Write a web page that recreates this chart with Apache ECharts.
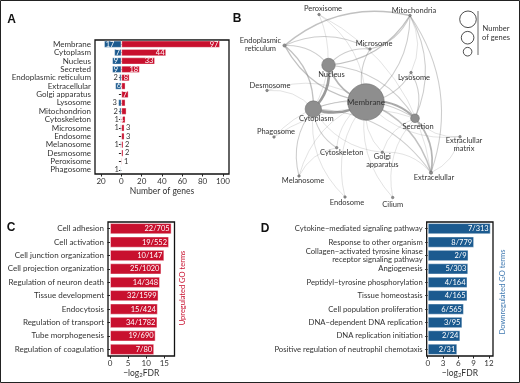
<!DOCTYPE html>
<html>
<head>
<meta charset="utf-8">
<script src="https://cdn.jsdelivr.net/npm/echarts@6/dist/echarts.min.js"></script>
<style>
html, body { margin: 0; padding: 0; background: #fff; }
#chart-container { width: 520px; height: 383px; }
</style>
</head>
<body>
<div id="chart-container"></div>
<script>
// Panel A - subcellular location of DE genes
var compartments = ['Membrane', 'Cytoplasm', 'Nucleus', 'Secreted', 'Endoplasmic reticulum', 'Extracellular',
    'Golgi apparatus', 'Lysosome', 'Mitochondrion', 'Cytoskeleton', 'Microsome', 'Endosome',
    'Melanosome', 'Desmosome', 'Peroxisome', 'Phagosome'];
var upGenes = [97, 44, 33, 18, 8, 4, 7, 4, 5, 4, 3, 3, 2, 2, 1, 0];
var downGenes = [17, 7, 9, 9, 2, 6, 0, 3, 2, 1, 1, 0, 1, 0, 0, 1];
var hiddenUpLabels = ['Extracellular', 'Lysosome', 'Mitochondrion'];
var geneTicks = [-20, 0, 20, 40, 60, 80, 100];

// Panel B - network
var netNodes = ['Peroxisome', 'Mitochondria', 'Endoplasmic reticulum', 'Microsome', 'Nucleus', 'Lysosome',
    'Desmosome', 'Membrane', 'Cytoplasm', 'Secretion', 'Phagosome', 'Extraclullar matrix', 'Cytoskeleton',
    'Golgi apparatus', 'Melanosome', 'Extracelullar', 'Endosome', 'Cilium'];
var netGenes = [1, 7, 10, 4, 42, 7, 2, 114, 51, 27, 1, 2, 5, 7, 3, 10, 3, 1];
var netEdges = [
    ['Nucleus', 'Cytoplasm', 7], ['Membrane', 'Cytoplasm', 6], ['Membrane', 'Secretion', 5],
    ['Membrane', 'Nucleus', 4], ['Secretion', 'Extracelullar', 4], ['Membrane', 'Endoplasmic reticulum', 3],
    ['Endoplasmic reticulum', 'Cytoplasm', 3], ['Endoplasmic reticulum', 'Nucleus', 2],
    ['Endoplasmic reticulum', 'Mitochondria', 3], ['Endoplasmic reticulum', 'Microsome', 2],
    ['Mitochondria', 'Nucleus', 3], ['Mitochondria', 'Membrane', 2], ['Mitochondria', 'Secretion', 2],
    ['Mitochondria', 'Extracelullar', 2], ['Mitochondria', 'Microsome', 2], ['Mitochondria', 'Lysosome', 1],
    ['Membrane', 'Extracelullar', 3], ['Cytoplasm', 'Extracelullar', 2], ['Cytoplasm', 'Secretion', 2],
    ['Nucleus', 'Secretion', 2], ['Nucleus', 'Microsome', 2], ['Membrane', 'Microsome', 2],
    ['Cytoskeleton', 'Cytoplasm', 2], ['Cytoskeleton', 'Membrane', 1], ['Melanosome', 'Cytoplasm', 2],
    ['Melanosome', 'Cytoskeleton', 1], ['Melanosome', 'Membrane', 1], ['Golgi apparatus', 'Membrane', 1],
    ['Golgi apparatus', 'Cytoplasm', 1], ['Golgi apparatus', 'Secretion', 1], ['Golgi apparatus', 'Extracelullar', 1],
    ['Lysosome', 'Membrane', 2], ['Lysosome', 'Secretion', 2], ['Desmosome', 'Membrane', 1],
    ['Desmosome', 'Cytoplasm', 1], ['Phagosome', 'Membrane', 1], ['Phagosome', 'Secretion', 1],
    ['Extraclullar matrix', 'Secretion', 1], ['Extraclullar matrix', 'Extracelullar', 1],
    ['Extraclullar matrix', 'Membrane', 1], ['Peroxisome', 'Membrane', 1], ['Peroxisome', 'Cytoplasm', 1],
    ['Peroxisome', 'Extracelullar', 1], ['Endosome', 'Membrane', 1], ['Endosome', 'Cytoplasm', 1],
    ['Cilium', 'Membrane', 1], ['Cilium', 'Secretion', 1]
];

// Panel C / D - GO terms
var upTerms = ['Cell adhesion', 'Cell activation', 'Cell junction organization', 'Cell projection organization',
    'Regulation of neuron death', 'Tissue development', 'Endocytosis', 'Regulation of transport',
    'Tube morphogenesis', 'Regulation of coagulation'];
var upFdr = [17.0, 16.3, 15.0, 14.2, 13.8, 13.4, 13.2, 13.1, 12.6, 12.2];
var upRatio = ['22/705', '19/552', '10/147', '25/1020', '14/348', '32/1599', '15/424', '34/1782', '19/690', '7/80'];
var fdrTicksUp = [0, 5, 10, 15];

var downTerms = ['Cytokine\u2212mediated signaling pathway', 'Response to other organism',
    'Collagen\u2212activated tyrosine kinase\nreceptor signaling pathway', 'Angiogenesis',
    'Peptidyl\u2212tyrosine phosphorylation', 'Tissue homeostasis', 'Cell population proliferation',
    'DNA\u2212dependent DNA replication', 'DNA replication initiation', 'Positive regulation of neutrophil chemotaxis'];
var downFdr = [12.35, 9.1, 8.0, 7.95, 7.8, 7.8, 7.1, 6.8, 6.4, 5.8];
var downRatio = ['7/313', '8/779', '2/9', '5/303', '4/164', '4/165', '6/565', '3/95', '2/24', '2/31'];
var fdrTicksDown = [0, 3, 6, 9, 12];

var RED = '#c8102e';
var BLUE = '#1b5a8f';
var TXT = '#333';
var FONT = 'Lato';

// network layout (node centre, label offset) in panel-B space
var netLayout = [[139, 14.5], [230, 15.5], [104.5, 45.5], [190, 49], [148.5, 65], [231, 72.5],
    [87, 90.5], [186, 102], [133.3, 109], [235, 118.3], [94, 137], [280, 136.7], [156.7, 147.7],
    [202.3, 152.3], [119, 176], [251, 172.7], [165, 197], [212.7, 197.5]];
var netLabelOffset = [[4, -5.5], [4, -4.5], [-24, -0.5], [4, -5], [3, 10], [3, 5], [3, -5], [0, 0], [3, 10],
    [3, 8], [2, -5], [4, 7.5], [5, 4.5], [0, 8.5], [4, 4.5], [3, 4.5], [2, 5.5], [0, 7.5]];

var dom = document.getElementById('chart-container');
var myChart = echarts.init(dom, null, { renderer: 'canvas' });

function geneItem(v, side, name) {
    var val = side === 'down' ? -v : v;
    if (!v || (side === 'up' && hiddenUpLabels.indexOf(name) >= 0)) {
        return { value: val, label: { show: false } };
    }
    var inside = side === 'up' ? v >= 4 : v >= 6;
    return {
        value: val,
        label: {
            show: true,
            position: inside ? (side === 'up' ? 'insideRight' : 'insideLeft') : (side === 'up' ? 'right' : 'left'),
            color: inside ? '#fff' : TXT,
            distance: 1.5
        }
    };
}

function fdrAxis(grid, mn, mx, ticks) {
    return {
        gridIndex: grid, type: 'value', min: mn, max: mx,
        axisLine: { show: false },
        axisTick: { show: true, customValues: ticks, length: 2.5, lineStyle: { color: '#222' } },
        axisLabel: { customValues: ticks, fontSize: 8, color: TXT, margin: 3 },
        splitLine: { show: false },
        name: '{a|\u2212log}{s|2}{a|FDR}', nameLocation: 'middle', nameGap: 11,
        nameTextStyle: {
            rich: {
                a: { fontSize: 8.5, color: TXT, fontFamily: FONT, lineHeight: 11, verticalAlign: 'bottom' },
                s: { fontSize: 6, color: TXT, fontFamily: FONT, lineHeight: 11, verticalAlign: 'bottom', padding: [4, 0, 0, 0] }
            }
        }
    };
}

function termAxis(grid, terms, size) {
    return {
        gridIndex: grid, type: 'category', data: terms, inverse: true,
        axisLine: { show: false },
        axisTick: { show: true, length: 2.5, alignWithLabel: true, interval: 0, lineStyle: { color: '#222' } },
        axisLabel: { fontSize: size, color: TXT, margin: 4, lineHeight: 8, interval: 0 }
    };
}

function termSeries(axisIdx, vals, ratios, color) {
    return {
        type: 'bar', xAxisIndex: axisIdx, yAxisIndex: axisIdx,
        barCategoryGap: '16%',
        itemStyle: { color: color, borderColor: 'rgba(255,255,255,0.45)', borderWidth: 1 },
        label: {
            show: true, position: 'insideRight', color: '#fff', fontSize: 7.5, distance: 2,
            formatter: function (p) { return ratios[p.dataIndex]; }
        },
        data: vals
    };
}

var frame = { show: true, borderColor: '#111', borderWidth: 1.3, backgroundColor: 'transparent' };

var option = {
    animation: false,
    textStyle: { fontFamily: FONT },
    grid: [
        Object.assign({ left: 95, top: 40, width: 134, height: 134 }, frame),
        Object.assign({ left: 108, top: 222, width: 66.5, height: 134 }, frame),
        Object.assign({ left: 426.7, top: 222, width: 66.3, height: 134 }, frame),
        { left: 180, top: 0, width: 340, height: 210, show: false }
    ],
    xAxis: [
        {
            gridIndex: 0, type: 'value', min: -26, max: 106,
            axisLine: { show: false },
            axisTick: { show: true, customValues: geneTicks, length: 2.5, lineStyle: { color: '#222' } },
            axisLabel: {
                customValues: geneTicks, fontSize: 8, color: TXT, margin: 3,
                formatter: function (v) { return Math.abs(v); }
            },
            splitLine: { show: false },
            name: 'Number of genes', nameLocation: 'middle', nameGap: 13,
            nameTextStyle: { fontSize: 8.5, color: TXT }
        },
        fdrAxis(1, -0.55, 17.8, fdrTicksUp),
        fdrAxis(2, -0.2, 12.8, fdrTicksDown),
        { gridIndex: 3, type: 'value', min: 0, max: 340, show: false }
    ],
    yAxis: [
        {
            gridIndex: 0, type: 'category', data: compartments, inverse: true,
            axisLine: { show: false },
            axisTick: { show: true, length: 2.5, alignWithLabel: true, interval: 0, lineStyle: { color: '#222' } },
            axisLabel: { fontSize: 8, color: TXT, margin: 4, interval: 0 }
        },
        termAxis(1, upTerms, 8),
        termAxis(2, downTerms, 7.7),
        { gridIndex: 3, type: 'value', min: 0, max: 210, inverse: true, show: false }
    ],
    series: [
        {
            type: 'bar', xAxisIndex: 0, yAxisIndex: 0, stack: 'genes', barWidth: 7,
            itemStyle: { color: BLUE, borderColor: 'rgba(255,255,255,0.4)', borderWidth: 0.8 },
            label: { fontSize: 7.5, formatter: function (p) { return Math.abs(p.value); } },
            data: downGenes.map(function (v, i) { return geneItem(v, 'down', compartments[i]); })
        },
        {
            type: 'bar', xAxisIndex: 0, yAxisIndex: 0, stack: 'genes', barWidth: 7,
            itemStyle: { color: RED, borderColor: 'rgba(255,255,255,0.4)', borderWidth: 0.8 },
            label: { fontSize: 7.5 },
            data: upGenes.map(function (v, i) { return geneItem(v, 'up', compartments[i]); })
        },
        termSeries(1, upFdr, upRatio, RED),
        termSeries(2, downFdr, downRatio, BLUE),
        {
            type: 'graph', coordinateSystem: 'cartesian2d', xAxisIndex: 3, yAxisIndex: 3,
            layout: 'none', roam: false,
            itemStyle: { color: '#8e8e8e', borderColor: '#6e6e6e', borderWidth: 0.6 },
            lineStyle: { color: '#888', curveness: 0.25 },
            label: { show: true, fontSize: 7.5, color: TXT, position: 'inside' },
            data: netNodes.map(function (n, i) {
                return {
                    name: n,
                    value: netLayout[i],
                    symbolSize: Math.max(2.5, netGenes[i] * 0.32),
                    label: {
                        offset: netLabelOffset[i],
                        align: 'center',
                        lineHeight: 8,
                        formatter: n === 'Endoplasmic reticulum' ? 'Endoplasmic\nreticulum'
                            : n === 'Golgi apparatus' ? 'Golgi\napparatus'
                            : n === 'Extraclullar matrix' ? 'Extraclullar\nmatrix' : n,
                        fontSize: n === 'Membrane' ? 8 : 7.5
                    }
                };
            }),
            links: netEdges.map(function (e) {
                return {
                    source: e[0], target: e[1],
                    lineStyle: { width: 0.4 + e[2] * 0.33, opacity: Math.min(0.85, 0.22 + e[2] * 0.1) }
                };
            })
        }
    ],
    graphic: [
        { type: 'rect', shape: { x: 0.5, y: 0.5, width: 519, height: 382 }, style: { fill: 'none', stroke: '#222', lineWidth: 1 } },
        { type: 'text', x: 11.5, y: 20, style: { text: 'A', font: 'bold 12px "Liberation Sans"', fill: '#111', textAlign: 'center', textVerticalAlign: 'middle' } },
        { type: 'text', x: 237, y: 19, style: { text: 'B', font: 'bold 12px "Liberation Sans"', fill: '#111', textAlign: 'center', textVerticalAlign: 'middle' } },
        { type: 'text', x: 11, y: 228, style: { text: 'C', font: 'bold 12px "Liberation Sans"', fill: '#111', textAlign: 'center', textVerticalAlign: 'middle' } },
        { type: 'text', x: 265, y: 229, style: { text: 'D', font: 'bold 12px "Liberation Sans"', fill: '#111', textAlign: 'center', textVerticalAlign: 'middle' } },
        { type: 'text', x: 183, y: 288, rotation: Math.PI / 2, style: { text: 'Upregulated GO terms', font: '7.5px Lato', fill: RED, textAlign: 'center', textVerticalAlign: 'middle' } },
        { type: 'text', x: 503, y: 292, rotation: Math.PI / 2, style: { text: 'Downregulated GO terms', font: '7.5px Lato', fill: '#3f78b0', textAlign: 'center', textVerticalAlign: 'middle' } },
        // network size legend
        { type: 'circle', shape: { cx: 468, cy: 19.3, r: 8.3 }, style: { fill: 'none', stroke: '#222', lineWidth: 0.8 } },
        { type: 'circle', shape: { cx: 467.6, cy: 37.7, r: 6.3 }, style: { fill: 'none', stroke: '#222', lineWidth: 0.8 } },
        { type: 'circle', shape: { cx: 467.6, cy: 51.7, r: 4.3 }, style: { fill: 'none', stroke: '#222', lineWidth: 0.8 } },
        { type: 'line', shape: { x1: 478, y1: 11, x2: 478, y2: 55 }, style: { stroke: '#444', lineWidth: 0.8 } },
        { type: 'text', x: 496, y: 33.5, style: { text: 'Number\nof genes', font: '7.5px Lato', fill: TXT, textAlign: 'center', textVerticalAlign: 'middle', lineHeight: 9 } }
    ]
};

myChart.setOption(option);

window.addEventListener('resize', function () {
    myChart.resize();
});
</script>
</body>
</html>
